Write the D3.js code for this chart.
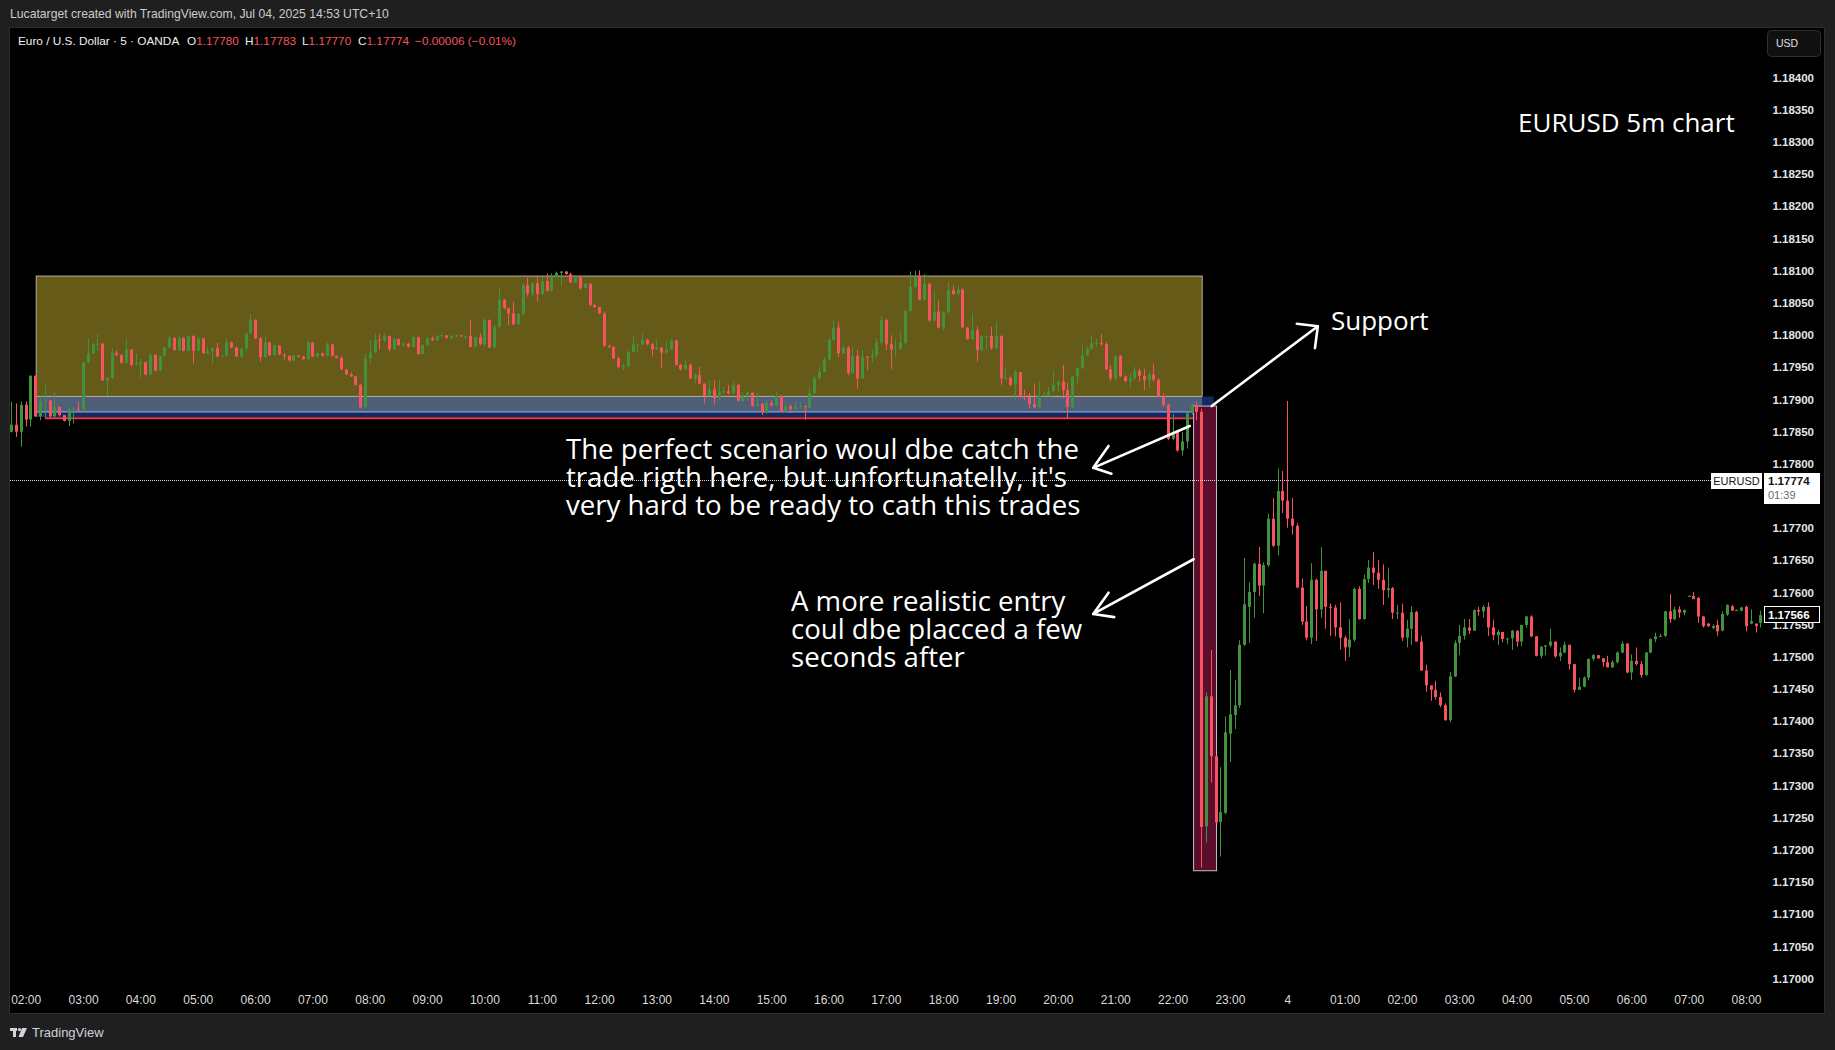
<!DOCTYPE html>
<html>
  <head>
    <meta charset="UTF-8" />
    <script src="https://d3js.org/d3.v7.min.js"></script>
    <style>
      html, body { margin: 0; padding: 0; background: #1f1f1f; }
      svg { display: block; }
    </style>
  </head>
  <body>
    <div id="chart"></div>
    <script>
      // EURUSD 5m bars, values in points (0.00001) above 1.17000
      // one line per hour, first line is 01:45-01:55
      const BASE = 1.17, PT = 0.00001;
      const firstBar = Date.UTC(2025, 6, 3, 1, 45);
      const FIVE_MIN = 5 * 60 * 1000;

      const openPts = [
        849, 860, 849,
        891, 868, 936, 873, 896, 898, 873, 888, 875, 866, 884, 885,
        883, 957, 971, 985, 986, 929, 933, 972, 968, 956, 977, 953,
        954, 957, 938, 969, 944, 967, 980, 995, 976, 995, 975, 998,
        975, 994, 971, 974, 979, 966, 967, 988, 980, 966, 978, 1002,
        1023, 994, 965, 988, 968, 983, 969, 967, 960, 968, 966, 962,
        988, 966, 971, 967, 985, 967, 964, 946, 938, 935, 922, 887,
        963, 972, 992, 991, 998, 977, 993, 984, 986, 981, 996, 970,
        984, 994, 991, 998, 999, 995, 998, 999, 998, 998, 981, 996,
        985, 1023, 980, 1012, 1054, 1041, 1033, 1016, 1032, 1077, 1064, 1080,
        1063, 1083, 1068, 1090, 1096, 1098, 1094, 1081, 1090, 1072, 1079, 1046,
        1043, 1033, 983, 981, 963, 950, 951, 973, 985, 985, 992, 985,
        977, 980, 972, 977, 991, 953, 946, 953, 932, 937, 924, 905,
        915, 901, 910, 912, 909, 922, 897, 904, 910, 889, 893, 879,
        894, 890, 905, 880, 889, 884, 888, 889, 887, 909, 932, 942,
        961, 992, 1011, 971, 980, 940, 967, 932, 966, 965, 968, 988,
        1023, 985, 977, 978, 988, 1037, 1074, 1090, 1054, 1079, 1022, 1036,
        1011, 1035, 1069, 1063, 1070, 1011, 993, 1007, 976, 997, 998, 979,
        998, 932, 933, 922, 942, 904, 903, 892, 887, 905, 906, 912,
        922, 927, 914, 888, 935, 948, 968, 978, 986, 987, 985, 946,
        932, 967, 935, 928, 932, 944, 936, 929, 938, 930, 904, 891,
        838, 849, 820, 834, 878, 889, 880, 236, 438, 345, 243, 257,
        380, 409, 424, 518, 577, 600, 644, 610, 642, 714, 672, 757,
        742, 714, 703, 607, 554, 529, 619, 573, 633, 577, 576, 545,
        529, 514, 526, 605, 558, 620, 638, 630, 619, 603, 606, 568,
        568, 529, 543, 569, 523, 478, 455, 448, 437, 424, 401, 469,
        521, 532, 545, 540, 572, 570, 577, 545, 533, 538, 527, 528,
        540, 523, 549, 562, 531, 501, 515, 517, 523, 500, 506, 518,
        488, 448, 453, 467, 496, 502, 497, 491, 483, 491, 506, 520,
        475, 493, 488, 471, 506, 527, 531, 532, 570, 558, 573, 568,
        594, 594, 591, 562, 551, 544, 549, 540, 565, 578, 572, 571,
        577, 551, 551, 552
      ];
      const highPts = [
        896, 893, 896,
        896, 937, 937, 904, 922, 898, 911, 888, 875, 888, 887, 896,
        958, 994, 987, 1001, 987, 934, 979, 976, 970, 993, 977, 971,
        962, 958, 971, 969, 968, 981, 998, 996, 998, 996, 999, 999,
        996, 995, 981, 980, 987, 968, 994, 989, 981, 979, 1003, 1032,
        1024, 996, 998, 989, 985, 984, 971, 967, 969, 968, 967, 992,
        988, 972, 972, 988, 985, 968, 966, 946, 941, 936, 924, 971,
        992, 1002, 1001, 1002, 998, 996, 994, 988, 987, 998, 997, 985,
        996, 997, 1000, 1001, 999, 999, 1001, 999, 999, 1023, 997, 1002,
        1025, 1023, 1015, 1072, 1055, 1042, 1051, 1033, 1080, 1088, 1081, 1090,
        1090, 1095, 1095, 1098, 1099, 1099, 1096, 1092, 1090, 1080, 1080, 1048,
        1043, 1036, 984, 982, 966, 955, 975, 999, 987, 1002, 994, 987,
        992, 980, 992, 994, 992, 955, 961, 955, 940, 950, 924, 929,
        929, 930, 919, 922, 927, 923, 910, 911, 910, 910, 893, 898,
        898, 911, 906, 896, 892, 896, 896, 890, 918, 937, 950, 965,
        994, 1022, 1020, 982, 982, 981, 976, 976, 967, 977, 994, 1029,
        1024, 999, 992, 1005, 1038, 1098, 1099, 1100, 1094, 1080, 1067, 1053,
        1036, 1082, 1077, 1075, 1072, 1012, 1033, 1013, 999, 999, 1012, 1020,
        999, 950, 935, 945, 942, 914, 909, 924, 927, 911, 919, 944,
        929, 953, 925, 936, 950, 985, 981, 999, 994, 1001, 989, 953,
        968, 968, 937, 939, 950, 947, 947, 944, 955, 932, 909, 893,
        877, 852, 849, 880, 893, 896, 885, 444, 510, 346, 328, 407,
        479, 463, 525, 653, 615, 646, 670, 646, 722, 746, 792, 788,
        897, 746, 707, 621, 578, 645, 621, 670, 633, 582, 580, 584,
        532, 558, 607, 609, 627, 650, 662, 650, 643, 638, 608, 580,
        582, 557, 578, 571, 532, 487, 455, 462, 444, 427, 476, 525,
        549, 558, 558, 573, 577, 580, 584, 557, 541, 538, 529, 541,
        540, 549, 563, 564, 532, 516, 518, 543, 523, 514, 523, 518,
        488, 467, 469, 497, 504, 502, 497, 501, 494, 508, 524, 520,
        503, 514, 493, 507, 528, 537, 535, 571, 597, 577, 578, 573,
        595, 600, 592, 563, 552, 550, 557, 570, 581, 580, 573, 577,
        579, 573, 551, 571
      ];
      const lowPts = [
        848, 841, 826,
        857, 857, 872, 867, 870, 870, 870, 873, 865, 858, 862, 881,
        880, 955, 970, 976, 928, 905, 931, 967, 955, 954, 951, 953,
        933, 937, 937, 943, 943, 966, 979, 975, 975, 974, 974, 955,
        974, 970, 970, 955, 965, 965, 966, 979, 965, 964, 974, 1001,
        993, 958, 964, 967, 967, 968, 961, 958, 958, 964, 961, 959,
        965, 964, 966, 966, 966, 963, 945, 937, 934, 921, 885, 886,
        955, 971, 977, 989, 974, 976, 982, 981, 980, 980, 969, 969,
        982, 990, 990, 997, 994, 993, 996, 996, 992, 980, 981, 984,
        981, 979, 979, 1011, 1039, 1015, 1015, 1015, 1031, 1059, 1059, 1051,
        1062, 1067, 1067, 1089, 1076, 1093, 1080, 1081, 1070, 1072, 1044, 1041,
        1032, 981, 979, 962, 948, 945, 949, 973, 973, 983, 984, 966,
        976, 948, 971, 976, 952, 944, 945, 931, 924, 923, 893, 904,
        891, 898, 908, 907, 907, 896, 896, 897, 888, 888, 875, 877,
        888, 888, 879, 879, 878, 883, 885, 868, 885, 908, 930, 941,
        959, 991, 965, 970, 937, 939, 916, 931, 945, 956, 963, 985,
        976, 946, 966, 976, 985, 1034, 1073, 1053, 1054, 1020, 1020, 1010,
        1007, 1033, 1062, 1062, 1010, 992, 991, 958, 974, 977, 977, 977,
        922, 930, 920, 899, 901, 898, 885, 885, 885, 901, 904, 910,
        911, 901, 870, 886, 924, 946, 966, 976, 981, 983, 945, 927,
        928, 934, 926, 917, 929, 927, 914, 918, 927, 903, 888, 836,
        836, 818, 812, 823, 876, 867, 172, 211, 304, 241, 189, 255,
        336, 387, 420, 516, 521, 560, 594, 567, 639, 670, 657, 723,
        700, 689, 606, 549, 525, 519, 524, 560, 543, 532, 531, 511,
        493, 499, 523, 557, 557, 614, 611, 605, 580, 591, 558, 558,
        524, 514, 518, 523, 478, 445, 431, 433, 421, 400, 398, 468,
        502, 526, 535, 540, 563, 560, 532, 525, 518, 522, 519, 510,
        515, 516, 545, 530, 500, 497, 502, 514, 498, 493, 505, 480,
        444, 448, 452, 463, 493, 496, 484, 483, 482, 489, 505, 474,
        463, 486, 467, 470, 505, 522, 530, 530, 552, 556, 560, 564,
        593, 589, 552, 545, 546, 542, 532, 539, 563, 571, 571, 570,
        539, 550, 537, 545
      ];
      const closePts = [
        860, 849, 891,
        868, 936, 873, 896, 898, 873, 888, 875, 866, 884, 885, 883,
        957, 971, 985, 986, 929, 933, 972, 968, 956, 977, 953, 954,
        957, 938, 969, 944, 967, 980, 995, 976, 995, 975, 998, 975,
        994, 971, 974, 979, 966, 967, 988, 980, 966, 978, 1002, 1023,
        994, 965, 988, 968, 983, 969, 967, 960, 968, 966, 962, 988,
        966, 971, 967, 985, 967, 964, 946, 938, 935, 922, 887, 963,
        972, 992, 991, 998, 977, 993, 984, 986, 981, 996, 970, 984,
        994, 991, 998, 999, 995, 998, 999, 998, 998, 981, 996, 985,
        1023, 980, 1012, 1054, 1041, 1033, 1016, 1032, 1077, 1064, 1080, 1063,
        1083, 1068, 1090, 1096, 1098, 1094, 1081, 1090, 1072, 1079, 1046, 1043,
        1033, 983, 981, 963, 950, 951, 973, 985, 985, 992, 985, 977,
        980, 972, 977, 991, 953, 946, 953, 932, 937, 924, 905, 915,
        901, 910, 912, 909, 922, 897, 904, 910, 889, 893, 879, 894,
        890, 905, 880, 889, 884, 888, 889, 887, 909, 932, 942, 961,
        992, 1011, 971, 980, 940, 967, 932, 966, 965, 968, 988, 1023,
        985, 977, 978, 988, 1037, 1074, 1090, 1054, 1079, 1022, 1036, 1011,
        1035, 1069, 1063, 1070, 1011, 993, 1007, 976, 997, 998, 979, 998,
        932, 933, 922, 942, 904, 903, 892, 887, 905, 906, 912, 922,
        927, 914, 888, 935, 948, 968, 978, 986, 987, 985, 946, 932,
        967, 935, 928, 932, 944, 936, 929, 938, 930, 904, 891, 838,
        849, 820, 834, 878, 889, 880, 235, 438, 345, 242, 258, 382,
        410, 424, 518, 581, 600, 644, 610, 642, 714, 672, 757, 742,
        714, 703, 607, 554, 529, 619, 573, 633, 577, 576, 545, 529,
        514, 526, 605, 558, 620, 638, 630, 619, 603, 606, 568, 568,
        529, 543, 569, 523, 478, 455, 448, 437, 424, 401, 469, 521,
        532, 545, 540, 572, 570, 577, 545, 533, 538, 527, 528, 540,
        523, 549, 562, 531, 501, 515, 517, 523, 500, 506, 518, 488,
        448, 453, 467, 496, 502, 497, 491, 483, 491, 506, 520, 475,
        493, 488, 471, 506, 527, 531, 532, 570, 558, 573, 568, 572,
        594, 589, 562, 547, 547, 547, 539, 566, 580, 571, 572, 576,
        547, 555, 547, 564
      ];

      const priceTicks = [
        1.17, 1.1705, 1.171, 1.1715, 1.172, 1.1725, 1.173, 1.1735, 1.174, 1.1745,
        1.175, 1.1755, 1.176, 1.1765, 1.177, 1.1775, 1.178, 1.1785, 1.179, 1.1795,
        1.18, 1.1805, 1.181, 1.1815, 1.182, 1.1825, 1.183, 1.1835, 1.184
      ];
      const timeTickLabels = [
        "02:00", "03:00", "04:00", "05:00", "06:00", "07:00", "08:00", "09:00",
        "10:00", "11:00", "12:00", "13:00", "14:00", "15:00", "16:00", "17:00",
        "18:00", "19:00", "20:00", "21:00", "22:00", "23:00", "4", "01:00",
        "02:00", "03:00", "04:00", "05:00", "06:00", "07:00", "08:00"
      ];
      const lastPrice = 1.17774, lastVisibleClose = 1.17566;

      // chart time helper (Jul 3, hours may run past 24)
      const at = (h, m) => new Date(Date.UTC(2025, 6, 3, h, m));

      // drawings on the chart, in time / price
      const rangeBox = { from: at(2, 11), to: at(22, 31), low: 1.17903, high: 1.18091 };
      const supportZone = { from: at(2, 11), to: at(22, 43), low: 1.17872, high: 1.17904 };
      const supportInner = { from: at(2, 11), to: at(22, 31), low: 1.1788, high: 1.17904 };
      const supportLine = { from: at(2, 20), to: at(22, 46), price: 1.1787 };
      const newsBox = { from: at(22, 22), to: at(22, 46), low: 1.17167, high: 1.17889 };
      const arrows = [
        { tail: [at(22, 41), 1.17889], tip: [at(24, 32), 1.18013],
          wings: [[at(24, 10), 1.18017], [at(24, 29), 1.17979]] },
        { tail: [at(22, 18), 1.17858], tip: [at(20, 37), 1.17793],
          wings: [[at(20, 53), 1.17827], [at(20, 56), 1.17784]] },
        { tail: [at(22, 22), 1.17651], tip: [at(20, 37), 1.17566],
          wings: [[at(20, 53), 1.17599], [at(20, 59), 1.17561]] }
      ];

      const W = 1835, H = 1050;
      const pane = { left: 9, top: 27, right: 1825, bottom: 1014 };
      const plotRight = 1765, plotBottom = 987;
      const FONT = "'Liberation Sans', Arial, sans-serif";
      const UP = "#43913c", DOWN = "#f7525f";

      const x = d3.scaleUtc()
        .domain([at(2, 0), at(32, 0)])
        .range([25.7, 1746]);
      const y = d3.scaleLinear().domain([1.17, 1.184]).range([978.2, 77.2]);

      const n = Math.min(openPts.length, highPts.length, lowPts.length, closePts.length);
      const bars = d3.range(n).map((k) => ({
        t: new Date(firstBar + k * FIVE_MIN),
        o: BASE + openPts[k] * PT,
        h: BASE + highPts[k] * PT,
        l: BASE + lowPts[k] * PT,
        c: BASE + closePts[k] * PT
      }));

      const svg = d3.select("#chart").append("svg")
        .attr("width", W).attr("height", H);

      svg.append("rect").attr("width", W).attr("height", H).attr("fill", "#1f1f1f");
      svg.append("rect")
        .attr("x", pane.left + 0.5).attr("y", pane.top + 0.5)
        .attr("width", pane.right - pane.left - 1).attr("height", pane.bottom - pane.top - 1)
        .attr("fill", "#000").attr("stroke", "#2c2c2c");

      svg.append("defs").append("clipPath").attr("id", "plot")
        .append("rect").attr("x", pane.left + 1).attr("y", pane.top + 1)
        .attr("width", plotRight - pane.left - 1).attr("height", plotBottom - pane.top - 1);

      const plot = svg.append("g").attr("clip-path", "url(#plot)");

      // zones behind the candles
      function zoneRect(z, fill, stroke) {
        return plot.append("rect")
          .attr("x", x(z.from)).attr("y", y(z.high))
          .attr("width", x(z.to) - x(z.from)).attr("height", y(z.low) - y(z.high))
          .attr("fill", fill).attr("stroke", stroke || "none");
      }
      zoneRect(rangeBox, "#665a19", "#b4b1a0");
      zoneRect(supportZone, "#142a62", "none");
      zoneRect(supportInner, "#4f5f78", "none");
      plot.append("line")
        .attr("x1", x(supportInner.from)).attr("x2", x(supportInner.to))
        .attr("y1", y(supportInner.low)).attr("y2", y(supportInner.low))
        .attr("stroke", "#86a3dc").attr("stroke-width", 1.2);
      plot.append("line")
        .attr("x1", x(supportInner.from)).attr("x2", x(supportInner.to))
        .attr("y1", y(supportInner.high)).attr("y2", y(supportInner.high))
        .attr("stroke", "#b4b1a0").attr("stroke-width", 1);
      plot.append("line")
        .attr("x1", x(supportLine.from)).attr("x2", x(supportLine.to))
        .attr("y1", y(supportLine.price)).attr("y2", y(supportLine.price))
        .attr("stroke", "#f23645").attr("stroke-width", 2);
      zoneRect(newsBox, "#5b0e2c", "#c9bcc4");

      // candles
      const candle = plot.append("g").selectAll("g").data(bars).join("g")
        .attr("fill", (d) => (d.c >= d.o ? UP : DOWN))
        .attr("stroke", (d) => (d.c >= d.o ? UP : DOWN));
      candle.append("line")
        .attr("x1", (d) => Math.round(x(d.t)) + 0.5).attr("x2", (d) => Math.round(x(d.t)) + 0.5)
        .attr("y1", (d) => y(d.h)).attr("y2", (d) => y(d.l))
        .attr("stroke-width", 1);
      candle.append("rect")
        .attr("x", (d) => Math.round(x(d.t)) - 1)
        .attr("width", 3)
        .attr("y", (d) => y(Math.max(d.o, d.c)))
        .attr("height", (d) => Math.max(1, Math.abs(y(d.o) - y(d.c))))
        .attr("stroke", "none");

      // current price dotted line
      svg.append("line")
        .attr("x1", pane.left + 1).attr("x2", 1711)
        .attr("y1", Math.round(y(lastPrice)) + 0.5).attr("y2", Math.round(y(lastPrice)) + 0.5)
        .attr("stroke", "#d8d8d8").attr("stroke-dasharray", "1 1");

      // arrows
      const arrowG = svg.append("g")
        .attr("fill", "none").attr("stroke", "#fff").attr("stroke-width", 2.6)
        .attr("stroke-linecap", "round").attr("stroke-linejoin", "round");
      arrows.forEach((a) => {
        const pt = (p) => [x(p[0]), y(p[1])];
        arrowG.append("path").attr("d", d3.line()([pt(a.tail), pt(a.tip)]));
        arrowG.append("path").attr("d", d3.line()([pt(a.wings[0]), pt(a.tip), pt(a.wings[1])]));
      });

      // annotation texts
      const NOTE = "'Open Sans', 'Noto Sans', sans-serif";
      const note = svg.append("g").attr("fill", "#fff").attr("font-family", NOTE);
      note.append("text").attr("x", 1518).attr("y", 132).attr("font-size", 26).text("EURUSD 5m chart");
      note.append("text").attr("x", 1331).attr("y", 330).attr("font-size", 26).text("Support");
      [
        "The perfect scenario woul dbe catch the",
        "trade rigth here, but unfortunatelly, it's",
        "very hard to be ready to cath this trades"
      ].forEach((s, k) => {
        note.append("text").attr("x", 566).attr("y", 459 + k * 28).attr("font-size", 27.6).text(s);
      });
      ["A more realistic entry", "coul dbe placced a few", "seconds after"].forEach((s, k) => {
        note.append("text").attr("x", 791).attr("y", 611 + k * 28).attr("font-size", 27.6).text(s);
      });

      // time axis
      const hourTicks = timeTickLabels.map((_, k) => at(2 + k, 0));
      const gx = svg.append("g").attr("transform", "translate(0,1004)")
        .call(d3.axisBottom(x).tickValues(hourTicks)
          .tickFormat((d, k) => timeTickLabels[k]).tickSize(0).tickPadding(0));
      gx.select(".domain").remove();
      gx.selectAll("text").attr("y", 0).attr("dy", 0)
        .attr("fill", "#dcdcdc").attr("font-family", FONT).attr("font-size", 12);

      // price axis
      const gy = svg.append("g").attr("transform", "translate(1814,0)")
        .call(d3.axisRight(y).tickValues(priceTicks).tickFormat(d3.format(".5f"))
          .tickSize(0).tickPadding(0));
      gy.select(".domain").remove();
      gy.selectAll("text").attr("x", 0).attr("dy", "0.35em").attr("text-anchor", "end")
        .attr("fill", "#e6e6e6").attr("font-family", FONT).attr("font-size", 11.5)
        .attr("font-weight", "bold");

      // last price labels
      svg.append("rect").attr("x", 1711).attr("y", 473).attr("width", 51).attr("height", 16)
        .attr("fill", "#fff");
      svg.append("text").attr("x", 1736.5).attr("y", 485).attr("text-anchor", "middle")
        .attr("font-family", FONT).attr("font-size", 11).attr("fill", "#131313").text("EURUSD");
      svg.append("rect").attr("x", 1764).attr("y", 473).attr("width", 56).attr("height", 31)
        .attr("fill", "#fff");
      svg.append("text").attr("x", 1768).attr("y", 485).attr("font-family", FONT)
        .attr("font-size", 11.5).attr("font-weight", "bold").attr("fill", "#131313")
        .text(d3.format(".5f")(lastPrice));
      svg.append("text").attr("x", 1768).attr("y", 499).attr("font-family", FONT)
        .attr("font-size", 11).attr("fill", "#6a6a6a").text("01:39");
      svg.append("rect").attr("x", 1764.5).attr("y", Math.round(y(lastVisibleClose)) - 7.5)
        .attr("width", 55).attr("height", 16)
        .attr("fill", "#000").attr("stroke", "#fff");
      svg.append("text").attr("x", 1768).attr("y", Math.round(y(lastVisibleClose)) + 4.5)
        .attr("font-family", FONT).attr("font-size", 11.5).attr("font-weight", "bold")
        .attr("fill", "#fff").text(d3.format(".5f")(lastVisibleClose));

      // USD button
      svg.append("rect").attr("x", 1767.5).attr("y", 30.5).attr("width", 53).attr("height", 26)
        .attr("rx", 4).attr("fill", "#101010").attr("stroke", "#2f2f2f");
      svg.append("text").attr("x", 1787).attr("y", 47).attr("text-anchor", "middle")
        .attr("font-family", FONT).attr("font-size", 10.5).attr("fill", "#e0e0e0").text("USD");

      // header and legend
      svg.append("text").attr("x", 10).attr("y", 18).attr("font-family", FONT)
        .attr("font-size", 12.2).attr("fill", "#cccccc")
        .text("Lucatarget created with TradingView.com, Jul 04, 2025 14:53 UTC+10");
      const legend = svg.append("text").attr("y", 45).attr("font-family", FONT)
        .attr("font-size", 11.8).attr("fill", "#f0f0f0");
      legend.append("tspan").attr("x", 18).text("Euro / U.S. Dollar · 5 · OANDA");
      [["O", "1.17780", 187], ["H", "1.17783", 245], ["L", "1.17770", 302], ["C", "1.17774", 358]]
        .forEach(([k, v, px]) => {
          legend.append("tspan").attr("x", px).text(k);
          legend.append("tspan").attr("fill", "#f7525f").text(v);
        });
      legend.append("tspan").attr("x", 415).attr("fill", "#f7525f").text("−0.00006 (−0.01%)");

      // TradingView mark at the bottom
      const logo = svg.append("g").attr("fill", "#d1d4dc");
      logo.append("rect").attr("x", 10).attr("y", 1028).attr("width", 7).attr("height", 3);
      logo.append("rect").attr("x", 13).attr("y", 1028).attr("width", 3).attr("height", 9);
      logo.append("circle").attr("cx", 19.5).attr("cy", 1029.6).attr("r", 1.6);
      logo.append("path").attr("d", "M22,1028 L27,1028 L23,1037 L18.5,1037 Z");
      svg.append("text").attr("x", 32).attr("y", 1036.5).attr("font-family", FONT)
        .attr("font-size", 13).attr("fill", "#d1d4dc").text("TradingView");
    </script>
  </body>
</html>
